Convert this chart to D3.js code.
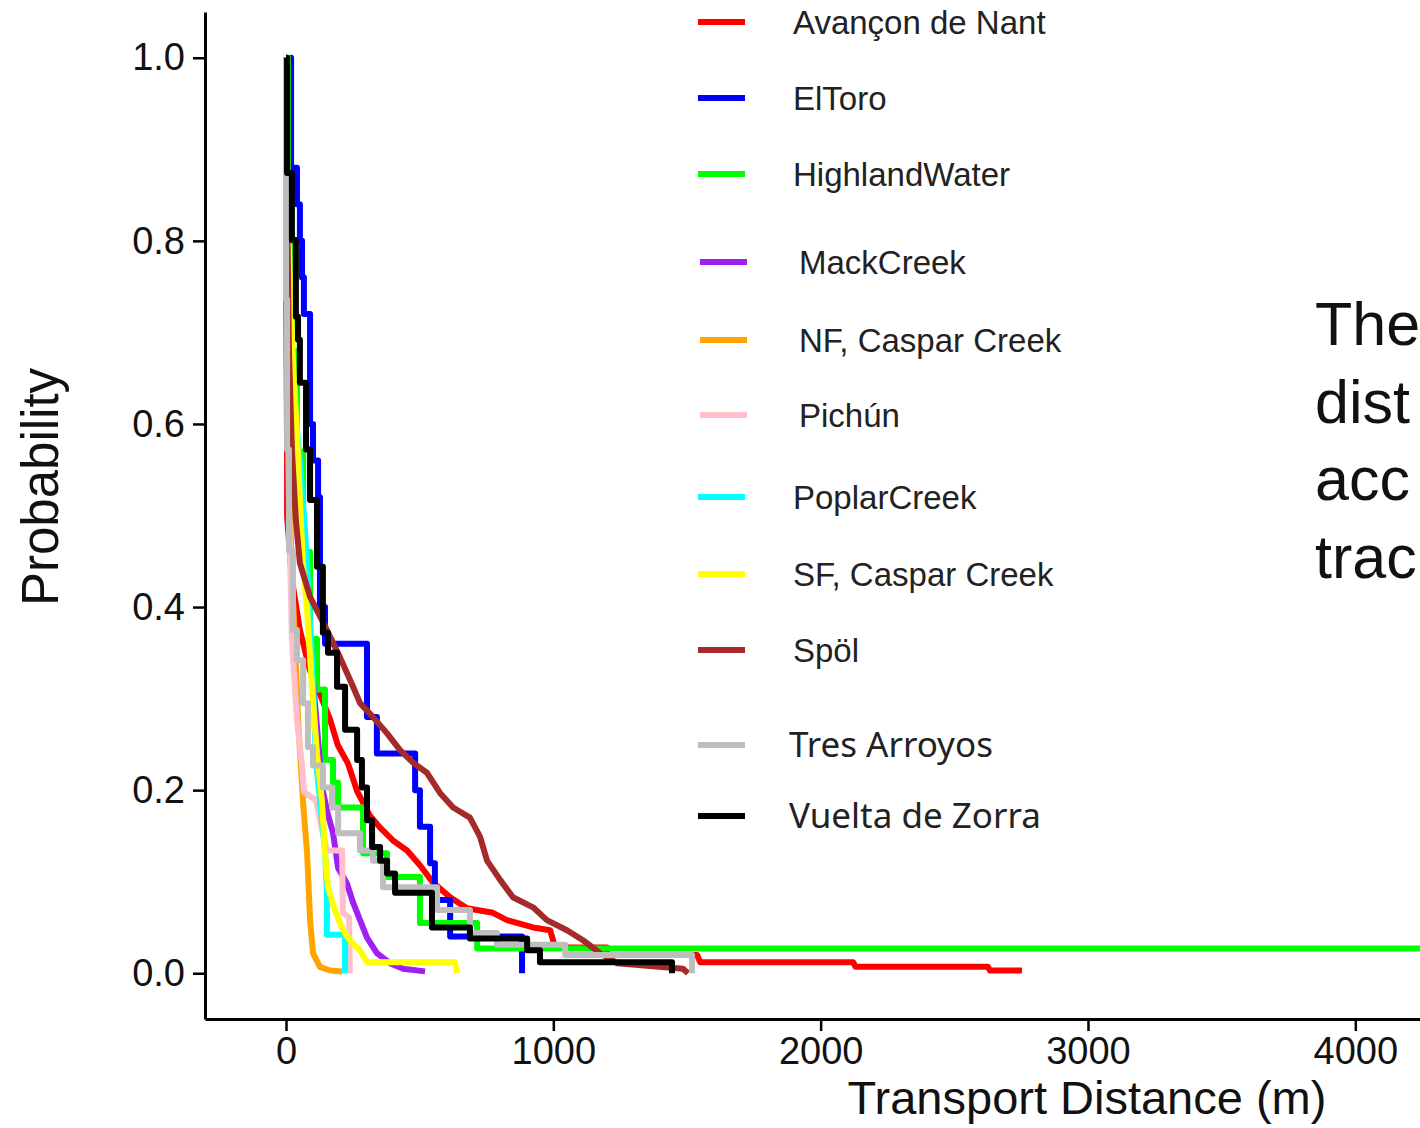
<!DOCTYPE html>
<html>
<head>
<meta charset="utf-8">
<script src="https://cdn.jsdelivr.net/npm/d3@7"></script>
<style>
html,body{margin:0;padding:0;background:#fff;}
svg{display:block;}
</style>
</head>
<body>
<svg id="chart" width="1420" height="1128"></svg>
<script>
// ---------- DATA ----------
const siteNames = ["Avançon de Nant","ElToro","HighlandWater","MackCreek","NF, Caspar Creek","Pichún","PoplarCreek","SF, Caspar Creek","Spöl","Tres Arroyos","Vuelta de Zorra"];

// [transport distance (m), exceedance probability]
const avancon = [[0,1.0],[0,0.84],[2,0.68],[4,0.57],[4,0.50],[22,0.43],[52,0.375],[90,0.33],[120,0.31],[165,0.277],[194,0.249],[232,0.229],[266,0.199],[314,0.172],[352,0.159],[400,0.145],[453,0.134],[501,0.118],[550,0.099],[614,0.083],[677,0.071],[774,0.066],[827,0.058],[924,0.050],[988,0.047],[1007,0.028],[1201,0.028],[1201,0.020],[1538,0.020],[1549,0.012],[2122,0.012],[2130,0.007],[2626,0.007],[2633,0.003],[2753,0.003]];
const elToro = [[15,1.0],[19,0.88],[41,0.84],[52,0.80],[60,0.76],[67,0.72],[90,0.60],[101,0.56],[120,0.52],[127,0.40],[146,0.36],[303,0.28],[340,0.24],[483,0.20],[501,0.16],[539,0.12],[557,0.08],[614,0.04],[883,0.0]];
const highlandWater = [[0,1.0],[7,0.845],[22,0.68],[41,0.57],[64,0.46],[90,0.365],[116,0.31],[146,0.233],[176,0.208],[195,0.181],[288,0.131],[378,0.105],[501,0.055],[715,0.027],[6060,0.027]];
const mackCreek = [[0,1.0],[7,0.79],[26,0.626],[52,0.55],[67,0.473],[82,0.408],[101,0.32],[120,0.255],[135,0.203],[157,0.173],[176,0.153],[195,0.115],[228,0.098],[251,0.077],[277,0.058],[303,0.039],[340,0.022],[389,0.011],[438,0.005],[520,0.002]];
const nfCaspar = [[0,1.0],[4,0.79],[11,0.572],[22,0.43],[34,0.364],[45,0.277],[64,0.186],[79,0.131],[90,0.058],[101,0.022],[127,0.007],[165,0.003],[210,0.002]];
const pichun = [[0,1.0],[4,0.736],[11,0.517],[22,0.364],[41,0.277],[60,0.227],[67,0.198],[112,0.189],[135,0.156],[153,0.134],[210,0.134],[213,0.066],[236,0.061],[239,0.0]];
const poplarCreek = [[0,1.0],[7,0.79],[22,0.648],[52,0.561],[71,0.484],[86,0.408],[101,0.32],[112,0.233],[127,0.189],[146,0.134],[153,0.091],[153,0.042],[221,0.042],[221,0.0]];
const sfCaspar = [[0,1.0],[4,0.878],[11,0.79],[26,0.67],[41,0.59],[52,0.517],[64,0.444],[79,0.397],[97,0.313],[116,0.24],[135,0.186],[146,0.131],[157,0.094],[183,0.069],[213,0.047],[239,0.036],[277,0.025],[303,0.012],[632,0.012],[640,0.0]];
const spol = [[0,1.0],[4,0.845],[11,0.681],[22,0.572],[37,0.495],[52,0.448],[90,0.411],[153,0.375],[202,0.345],[251,0.313],[277,0.295],[325,0.28],[378,0.262],[426,0.244],[475,0.23],[527,0.219],[576,0.197],[625,0.181],[688,0.17],[726,0.149],[752,0.123],[801,0.102],[849,0.083],[924,0.072],[976,0.058],[1051,0.047],[1111,0.036],[1175,0.022],[1238,0.011],[1485,0.005],[1504,0.0]];
const tresArroyos = [[0,1.0],[0,0.736],[4,0.572],[11,0.462],[26,0.375],[41,0.342],[64,0.295],[82,0.247],[101,0.227],[138,0.203],[172,0.181],[195,0.153],[277,0.134],[325,0.123],[363,0.094],[565,0.069],[688,0.044],[789,0.031],[1044,0.020],[1519,0.0]];
const vueltaZorra = [[0,1.0],[4,0.874],[22,0.801],[37,0.717],[45,0.692],[52,0.645],[75,0.572],[90,0.517],[116,0.444],[138,0.372],[157,0.35],[191,0.313],[221,0.266],[266,0.233],[284,0.203],[303,0.167],[322,0.138],[352,0.123],[378,0.109],[408,0.088],[546,0.05],[688,0.038],[902,0.025],[950,0.012],[1444,0.0]];

const xTicks = [0,1000,2000,3000,4000];
const yTicks = [0,0.2,0.4,0.6,0.8,1.0];
const sideText = ["The","dist","acc","trac"];

// ---------- STYLE ----------
const seriesData = [avancon, elToro, highlandWater, mackCreek, nfCaspar, pichun, poplarCreek, sfCaspar, spol, tresArroyos, vueltaZorra];
const colors = ["#ff0000","#0000ff","#00ff00","#a020f0","#ffa500","#ffc0cb","#00ffff","#ffff00","#a52a2a","#bebebe","#000000"];
const stepped = [false,true,true,false,false,false,false,false,false,true,true];
const legendRowY = [22,98,174,262,340,415,497,574,650,745,816];
const legendKeyX = [698,698,698,700,700,700,698,698,698,698,698];
const legendTextX = [793,793,793,799,799,799,793,793,793,789,789];

const FONT = "Arial, 'Liberation Sans', sans-serif";
const svg = d3.select("#chart");

const x = d3.scaleLinear().domain([-303, 6363]).range([205, 1987]);
const y = d3.scaleLinear().domain([-0.05, 1.05]).range([1019, 12]);

// lines
const lineLinear = d3.line().x(d => x(d[0])).y(d => y(d[1])).curve(d3.curveLinear);
const lineStep = d3.line().x(d => x(d[0])).y(d => y(d[1])).curve(d3.curveStepAfter);

const gLines = svg.append("g");
seriesData.forEach((s, i) => {
  gLines.append("path")
    .attr("d", (stepped[i] ? lineStep : lineLinear)(s))
    .attr("fill", "none")
    .attr("stroke", colors[i])
    .attr("stroke-width", 6)
    .attr("stroke-linejoin", "round");
});

// axes
const yAxis = d3.axisLeft(y).tickValues(yTicks).tickFormat(d3.format(".1f")).tickSizeInner(12).tickSizeOuter(0).tickPadding(8);
const xAxis = d3.axisBottom(x).tickValues(xTicks).tickFormat(d3.format("d")).tickSizeInner(12).tickSizeOuter(0).tickPadding(6);

const gy = svg.append("g").attr("transform", "translate(205,0)").call(yAxis);
const gx = svg.append("g").attr("transform", "translate(0,1019)").call(xAxis);
[gx, gy].forEach(g => {
  g.select(".domain").attr("stroke", "#000").attr("stroke-width", 3);
  g.selectAll(".tick line").attr("stroke", "#000").attr("stroke-width", 2.5);
  g.selectAll(".tick text").attr("fill", "#111").style("font-family", FONT).style("font-size", "38px");
});

// axis titles
svg.append("text")
  .attr("x", 1087).attr("y", 1114)
  .attr("text-anchor", "middle")
  .style("font-family", FONT).style("font-size", "47px").attr("fill", "#111")
  .text("Transport Distance (m)");
svg.append("text")
  .attr("transform", "translate(58,487) rotate(-90)")
  .attr("text-anchor", "middle")
  .style("font-family", FONT).style("font-size", "51px").attr("fill", "#111")
  .text("Probability");

// legend
const gLeg = svg.append("g");
siteNames.forEach((name, i) => {
  gLeg.append("line")
    .attr("x1", legendKeyX[i]).attr("x2", legendKeyX[i] + 47)
    .attr("y1", legendRowY[i]).attr("y2", legendRowY[i])
    .attr("stroke", colors[i]).attr("stroke-width", 6);
  gLeg.append("text")
    .attr("x", legendTextX[i]).attr("y", legendRowY[i])
    .attr("dy", "0.35em")
    .style("font-family", i >= 9 ? "'Noto Sans', sans-serif" : FONT)
    .style("font-size", i >= 9 ? "35px" : "33px")
    .attr("fill", "#222")
    .text(name);
});

// side text
sideText.forEach((t, i) => {
  svg.append("text")
    .attr("x", 1315).attr("y", 345 + i * 77.5)
    .style("font-family", FONT).style("font-size", "61px").attr("fill", "#111")
    .text(t);
});
</script>
</body>
</html>
